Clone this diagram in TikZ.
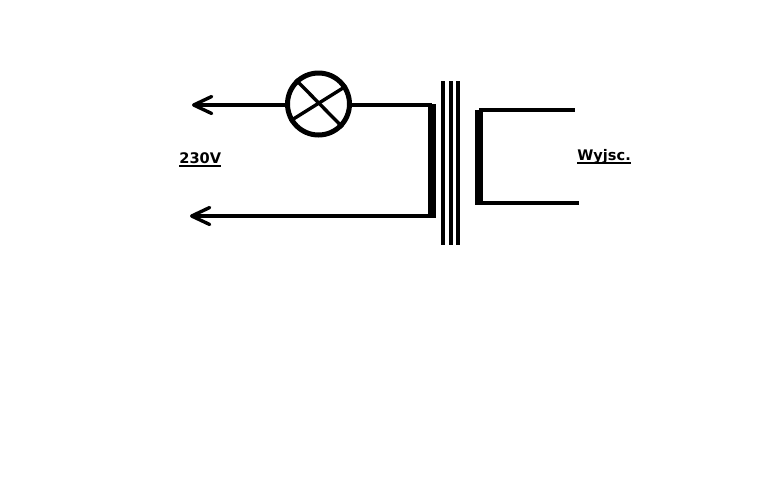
\documentclass[tikz,border=0pt]{standalone}
\usepackage{fontspec}
\setmainfont{DejaVu Sans}
\usetikzlibrary{arrows.meta}
\newcommand{\ullabel}[1]{\setbox0\hbox{#1}\rlap{\rule[-2.2pt]{\wd0}{1.1pt}}\box0}
\tikzset{
	wire/.style={line width=0.068cm},
	barb/.style={wire, -{Straight Barb[length=0.36cm, width=0.34cm, round]}},
	coil/.style={fill=black, draw=none},
	lbl/.style={anchor=base west, inner sep=0pt, font=\fontsize{8.3}{10}\selectfont\bfseries}
}

\begin{document}
\begin{tikzpicture}[x=0.02cm, y=-0.02cm]
		%%%%% START %%%%%
		\useasboundingbox (0, 0) rectangle (771, 491);

		\node[circle, draw, line width=0.1cm, minimum size=1.24cm, inner sep=0] (lamp) at (318.5, 104) {};
		\draw[wire] (lamp.133) -- (lamp.-44);
		\draw[wire] (lamp.211) -- (lamp.33);

		\coordinate (inTop) at (192, 105);
		\coordinate (inBot) at (190, 216);
		\coordinate (priTop) at (432, 105);
		\coordinate (priBot) at (432, 216);
		\coordinate (secTop) at (479, 110);
		\coordinate (secBot) at (479, 203);
		\coordinate (outTop) at (575, 110);
		\coordinate (outBot) at (579, 203);

		\draw[barb] (lamp.west |- inTop) -- (inTop);
		\draw[wire] (lamp.east |- inTop) -- (priTop);
		\draw[barb] (priBot) -- (inBot);
		\draw[wire] (secTop) -- (outTop);
		\draw[wire] (secBot) -- (outBot);

		% windings
		\fill[coil] (428, 104) rectangle (436, 218);
		\fill[coil] (475, 110) rectangle (483, 205);

		% core
		\foreach \x in {442.5, 450.5, 457.5}
			\draw[line width=0.08cm] (\x, 81) -- (\x, 245);

		\node[lbl] (mains) at (179, 163) {\ullabel{230V}};
		\node[lbl] (output) at (577, 160) {\ullabel{Wyjsc.}};
		%%%%% END %%%%%
	\end{tikzpicture}
\end{document}
